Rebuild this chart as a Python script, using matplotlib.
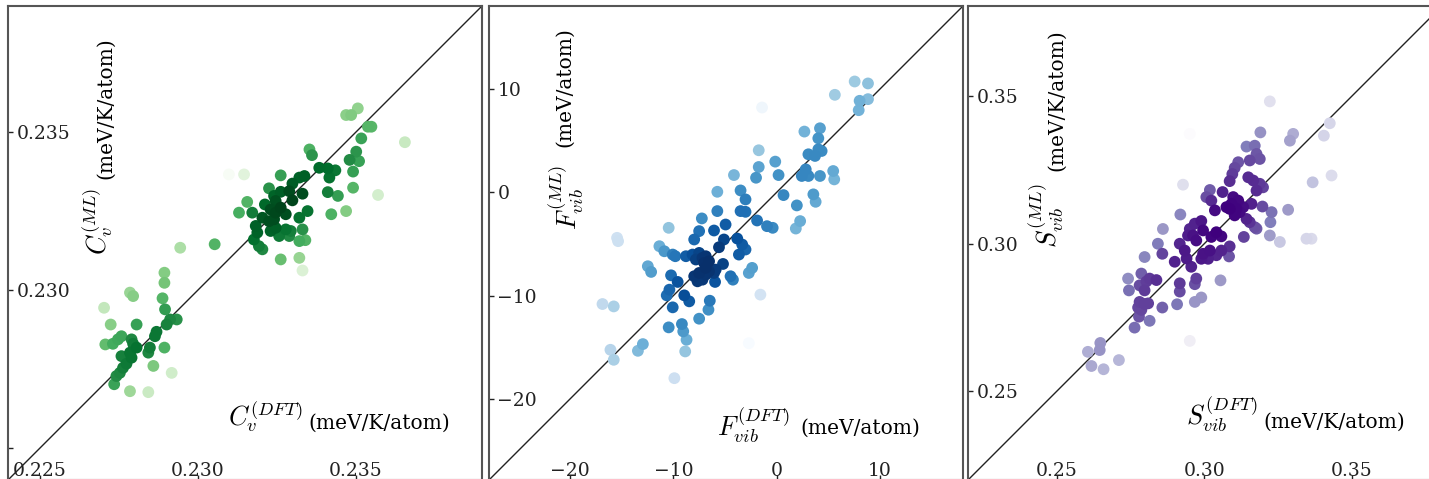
import numpy as np
import matplotlib
matplotlib.use("Agg")
import matplotlib.pyplot as plt
from matplotlib.colors import PowerNorm

plt.rcParams['font.family'] = 'DejaVu Serif'
plt.rcParams['mathtext.fontset'] = 'cm'

# heat capacity (meV/K/atom): DFT vs ML
cv_dft = [0.23507, 0.23470, 0.23486, 0.23539, 0.23550, 0.23656, 0.23518, 0.23354, 0.23362, 0.23502,
          0.23481, 0.23511, 0.23385, 0.23412, 0.23436, 0.23492, 0.23417, 0.23338, 0.23322, 0.23263,
          0.23300, 0.23492, 0.23412, 0.23444, 0.23571, 0.23226, 0.23263, 0.23332, 0.23300, 0.23247,
          0.23157, 0.23213, 0.23231, 0.23247, 0.23263, 0.23173, 0.23131, 0.23348, 0.23423, 0.23470,
          0.23205, 0.23226, 0.23242, 0.23322, 0.23184, 0.23189, 0.23247, 0.23279, 0.23295, 0.23258,
          0.23290, 0.23332, 0.23322, 0.23341, 0.23178, 0.23194, 0.23205, 0.23263, 0.23322, 0.23332,
          0.23099, 0.23147, 0.23054, 0.22945, 0.23290, 0.23242, 0.23279, 0.23231,
          0.22895, 0.22895, 0.22786, 0.22796, 0.22704, 0.22889, 0.22897, 0.22725, 0.22807, 0.22934,
          0.22913, 0.22902, 0.22870, 0.22865, 0.22759, 0.22748, 0.22732, 0.22708, 0.22791, 0.22796,
          0.22807, 0.22849, 0.22844, 0.22895, 0.22759, 0.22786, 0.22791, 0.22775, 0.22764, 0.22754,
          0.22743, 0.22860, 0.22918, 0.22736, 0.22786, 0.22844]
cv_ml = [0.23576, 0.23555, 0.23555, 0.23518, 0.23518, 0.23469, 0.23481, 0.23446, 0.23428, 0.23439,
         0.23413, 0.23409, 0.23388, 0.23386, 0.23380, 0.23376, 0.23357, 0.23362, 0.23357, 0.23364,
         0.23338, 0.23325, 0.23311, 0.23299, 0.23302, 0.23323, 0.23312, 0.23306, 0.23285, 0.23283,
         0.23280, 0.23272, 0.23256, 0.23246, 0.23262, 0.23246, 0.23246, 0.23251, 0.23241, 0.23251,
         0.23230, 0.23219, 0.23225, 0.23230, 0.23204, 0.23183, 0.23198, 0.23193, 0.23188, 0.23172,
         0.23172, 0.23193, 0.23156, 0.23159, 0.23161, 0.23140, 0.23130, 0.23098, 0.23103, 0.23063,
         0.23367, 0.23367, 0.23146, 0.23135, 0.23314, 0.23299, 0.23241, 0.23188,
         0.23056, 0.23024, 0.22993, 0.22982, 0.22945, 0.22975, 0.22940, 0.22892, 0.22892, 0.22908,
         0.22908, 0.22892, 0.22869, 0.22855, 0.22855, 0.22845, 0.22831, 0.22829, 0.22845, 0.22831,
         0.22819, 0.22819, 0.22803, 0.22819, 0.22792, 0.22803, 0.22787, 0.22768, 0.22755, 0.22739,
         0.22729, 0.22761, 0.22739, 0.22703, 0.22681, 0.22678]

# vibrational free energy (meV/atom)
f_dft = [7.56, 8.85, 5.64, 8.04, 8.85, 7.95, -1.41, 4.20, 2.69, 4.04, 4.04, 3.08, 3.72, 4.36,
         -1.73, -0.13, -1.73, -1.99, 0.19, -4.13, 2.44, 3.08, 2.82, 5.48, 5.58, 4.20,
         -5.74, -3.49, -3.01, 0.67, 1.96, 3.56, 3.78,
         -3.49, -3.01, -5.74, -7.24, -1.89, -0.93, -0.38, 2.28, 1.86, -4.94, -6.06, -10.45, -7.50,
         -15.45, -15.35, -7.98, -5.10, -5.58, -3.81, -3.33, -3.65, -3.01, -11.35, -10.87, -10.06, -9.81,
         -8.78, -8.14, -7.50, -7.18, -6.86, -7.82, -7.02, -6.54,
         -6.86, -6.54, -6.06, -5.90, -5.19, -12.47, -12.15, -10.22, -9.58,
         -7.98, -7.66, -7.18, -6.86, -7.50, -5.96, -4.46, -4.23, -2.69, -2.37,
         -10.38, -10.64, -8.94, -8.46, -1.57, -16.86, -15.77, -10.06, -6.47, -6.60, -7.50, -10.45,
         -9.17, -9.04, -8.72, -12.95, -13.43, -8.85, -16.09, -15.77, -2.69, -9.90]
f_ml = [10.74, 10.55, 9.45, 8.87, 9.03, 7.96, 8.22, 6.21, 5.89, 5.24, 4.17, 3.69, 3.53, 4.01,
        4.08, 2.98, 2.46, 1.42, 1.68, 1.68, 1.59, 1.59, 2.23, 2.07, 1.26, 1.59,
        0.06, 0.19, -0.68, -0.26, -1.26, -0.19, -0.91,
        -1.81, -1.88, -1.81, -2.52, -2.72, -3.27, -3.43, -2.78, -3.50, -3.11, -3.69, -3.43, -3.75,
        -4.40, -4.72, -4.56, -4.56, -5.31, -4.47, -5.05, -6.02, -5.53, -5.21, -5.70, -6.02, -6.18,
        -6.18, -6.02, -5.86, -6.34, -6.18, -6.50, -6.83, -6.67,
        -7.31, -7.64, -7.80, -7.48, -6.93, -7.15, -7.70, -8.03, -8.67,
        -8.12, -8.61, -8.45, -7.96, -7.80, -8.67, -8.12, -8.45, -7.80, -7.31,
        -9.42, -9.97, -9.97, -10.55, -9.90, -10.81, -11.04, -11.13, -10.49, -11.36, -12.23, -13.07,
        -12.75, -13.46, -14.27, -14.69, -15.34, -15.40, -15.24, -16.21, -14.60, -17.99]

# vibrational entropy (meV/K/atom)
s_dft = [0.3222, 0.2951, 0.3190, 0.3301, 0.3290, 0.3425, 0.3405,
         0.3143, 0.3171, 0.3177, 0.3188, 0.3154, 0.3115, 0.3103, 0.3095, 0.3086,
         0.3149, 0.3166, 0.3188, 0.3199, 0.3177, 0.3431, 0.3367, 0.2928,
         0.3019, 0.3007, 0.3024, 0.3062, 0.3098, 0.3115, 0.3092, 0.3109, 0.3120, 0.3103, 0.3086, 0.3075,
         0.3132, 0.3160, 0.3036, 0.3197, 0.3228, 0.3224, 0.3284,
         0.3143, 0.3154, 0.3171, 0.3177, 0.2919, 0.3222, 0.3256, 0.3346, 0.3363,
         0.2968, 0.2990, 0.2951, 0.2962, 0.2973, 0.2945, 0.2996, 0.3024, 0.3058, 0.3041, 0.3134, 0.2860,
         0.2917, 0.2934, 0.2843, 0.2858, 0.2996, 0.3019, 0.3041, 0.3013, 0.2990, 0.3058, 0.3086, 0.3084,
         0.2798, 0.2900, 0.2940, 0.2956, 0.2973, 0.2968, 0.2742, 0.2745,
         0.2787, 0.2815, 0.2838, 0.2804, 0.2781, 0.2798, 0.2917, 0.2917, 0.3055, 0.2968, 0.2990, 0.2908,
         0.2781, 0.2798, 0.2810, 0.2776, 0.2787, 0.2858, 0.2779, 0.2815, 0.2764, 0.2951,
         0.2648, 0.2646, 0.2606, 0.2618, 0.2659, 0.2711]
s_ml = [0.3482, 0.3372, 0.3377, 0.3372, 0.3349, 0.3408, 0.3366,
        0.3329, 0.3332, 0.3304, 0.3287, 0.3282, 0.3276, 0.3257, 0.3236, 0.3212,
        0.3225, 0.3214, 0.3203, 0.3191, 0.3180, 0.3231, 0.3208, 0.3200,
        0.3182, 0.3158, 0.3146, 0.3175, 0.3158, 0.3146, 0.3135, 0.3118, 0.3107, 0.3096, 0.3118, 0.3124,
        0.3124, 0.3135, 0.3113, 0.3126, 0.3107, 0.3073, 0.3115,
        0.3084, 0.3073, 0.3056, 0.3051, 0.3099, 0.3028, 0.3006, 0.3017, 0.3017,
        0.3068, 0.3077, 0.3050, 0.3028, 0.3011, 0.3028, 0.3045, 0.3023, 0.3025, 0.3039, 0.3023, 0.3050,
        0.3000, 0.2977, 0.3000, 0.2966, 0.2966, 0.2977, 0.2961, 0.2949, 0.2949, 0.2977, 0.2991, 0.2957,
        0.2955, 0.2939, 0.2950, 0.2922, 0.2882, 0.2863, 0.2882, 0.2842,
        0.2899, 0.2882, 0.2877, 0.2872, 0.2859, 0.2842, 0.2866, 0.2838, 0.2876, 0.2803, 0.2818, 0.2795,
        0.2803, 0.2796, 0.2798, 0.2784, 0.2776, 0.2784, 0.2753, 0.2739, 0.2716, 0.2671,
        0.2664, 0.2640, 0.2634, 0.2586, 0.2575, 0.2606]


def point_density(x, y):
    # gaussian kde (scott bandwidth) evaluated at every point
    pts = np.vstack([x, y])
    n = pts.shape[1]
    cov = np.cov(pts) * n ** (-1 / 3)
    inv = np.linalg.inv(cov)
    diff = pts[:, :, None] - pts[:, None, :]
    q = np.einsum('ijk,il,ljk->jk', diff, inv, diff)
    return np.exp(-0.5 * q).sum(axis=1)


panels = [
    dict(x=cv_dft, y=cv_ml, cmap='Greens', lim=(0.2240, 0.2390), ticks=[0.225, 0.230, 0.235],
         xl=r'$C_v^{(DFT)}$', yl=r'$C_v^{(ML)}$', unit='(meV/K/atom)',
         xl_pos=(0.543, 0.133), xu_pos=(0.783, 0.120), yl_pos=(0.190, 0.546), yu_pos=(0.207, 0.785)),
    dict(x=f_dft, y=f_ml, cmap='Blues', lim=(-27.85, 18.05), ticks=[-20, -10, 0, 10],
         xl=r'$F_{vib}^{(DFT)}$', yl=r'$F_{vib}^{(ML)}$', unit='(meV/atom)',
         xl_pos=(0.558, 0.116), xu_pos=(0.783, 0.110), yl_pos=(0.163, 0.597), yu_pos=(0.160, 0.829)),
    dict(x=s_dft, y=s_ml, cmap='Purples', lim=(0.2200, 0.3805), ticks=[0.25, 0.30, 0.35],
         xl=r'$S_{vib}^{(DFT)}$', yl=r'$S_{vib}^{(ML)}$', unit='(meV/K/atom)',
         xl_pos=(0.536, 0.139), xu_pos=(0.772, 0.122), yl_pos=(0.165, 0.557), yu_pos=(0.186, 0.802)),
]

W, H = 1429, 479
fig = plt.figure(figsize=(W / 100, H / 100), dpi=100)
lefts = [8, 489, 968]

for i, (p, left) in enumerate(zip(panels, lefts)):
    ax = fig.add_axes([left / W, -1 / H, 474 / W, 474 / H])
    x = np.array(p['x'])
    y = np.array(p['y'])
    z = point_density(x, y)
    order = z.argsort()
    ax.scatter(x[order], y[order], c=z[order], cmap=p['cmap'], norm=PowerNorm(0.5),
               s=72, linewidths=0, zorder=2)
    lo, hi = p['lim']
    ax.plot([lo, hi], [lo, hi], color='#222222', lw=1.0, zorder=1)
    ax.set_xlim(lo, hi)
    ax.set_ylim(lo, hi)
    ax.set_xticks(p['ticks'])
    ax.set_yticks(p['ticks'])
    ax.tick_params(axis='both', direction='in', length=3.5, width=1, labelsize=13.5, colors='#222222')
    ax.tick_params(axis='y', pad=-6)
    ax.tick_params(axis='x', pad=-3.2)
    for lbl in ax.get_yticklabels():
        lbl.set_horizontalalignment('left')
    for lbl in ax.get_xticklabels():
        lbl.set_verticalalignment('baseline')
    if i == 0:
        ax.get_yticklabels()[0].set_visible(False)
    for sp in ax.spines.values():
        sp.set_color('#555555')
        sp.set_linewidth(1.5)

    ax.text(*p['xl_pos'], p['xl'], transform=ax.transAxes, fontsize=19, ha='center', va='center')
    ax.text(*p['xu_pos'], p['unit'], transform=ax.transAxes, fontsize=14.5, ha='center', va='center')
    ax.text(*p['yl_pos'], p['yl'], transform=ax.transAxes, fontsize=19, ha='center', va='center',
            rotation=90)
    ax.text(*p['yu_pos'], p['unit'], transform=ax.transAxes, fontsize=14.5, ha='center', va='center',
            rotation=90)

fig.savefig('out.png', dpi=100)
